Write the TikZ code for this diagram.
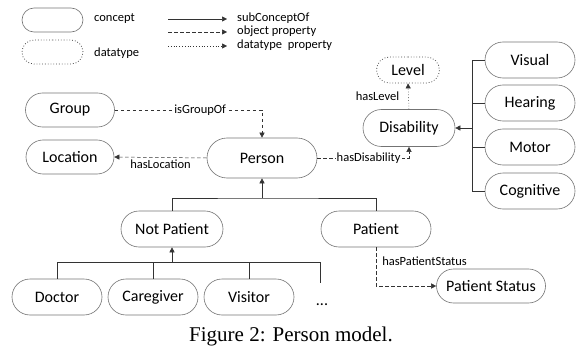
\documentclass[tikz,border=0pt]{standalone}
\usepackage{fontspec}
\setmainfont{Carlito}
\newfontfamily\capfont{Liberation Serif}
\usetikzlibrary{shapes.misc,arrows.meta}

\tikzset{
  concept/.style={rounded rectangle, draw=black!55, line width=0.6pt, minimum width=90pt, minimum height=36pt, inner sep=0pt, font=\fontsize{16}{18}\selectfont},
  datatype/.style={concept, draw=black!70, line width=0.8pt, dash pattern=on 0.8pt off 2pt},
  lbl/.style={font=\fontsize{12.5}{14}\selectfont, inner sep=1pt},
  sub/.style={-{Triangle[length=5pt,width=5pt]}, draw=black!80, line width=0.5pt},
  obj/.style={sub, dash pattern=on 3.5pt off 2.5pt},
  dat/.style={sub, dash pattern=on 0.8pt off 2pt},
}

\begin{document}
\begin{tikzpicture}[x=1pt,y=-1pt]
\useasboundingbox (0,0) rectangle (576,361);
%1. legend
\node[concept, minimum width=61pt, minimum height=24pt] (lgconcept) at (52.5,20) {};
\node[lbl, anchor=west] (lgconcepttxt) at (93,19) {concept};
\node[datatype, minimum width=61pt, minimum height=24pt] (lgdatatype) at (52.5,52) {};
\node[lbl, anchor=west] (lgdatatypetxt) at (93,53) {datatype};
\foreach \y/\kind/\txt in {19/sub/subConceptOf, 32/obj/object property, 46/dat/datatype\ \ property}
  {\coordinate (lgs\y) at (168,\y);
   \coordinate (lge\y) at (227,\y);
   \draw[\kind] (lgs\y) -- (lge\y);
   \node[lbl, anchor=west] (lgtxt\y) at (236,\y-1) {\txt};
  }
%2. concepts
\node[concept, minimum width=89pt, minimum height=34pt] (group) at (70,110) {Group};
\node[concept, minimum width=88pt, minimum height=34pt] (location) at (70,157) {Location};
\node[concept, minimum width=110pt, minimum height=40pt] (person) at (262,158) {Person};
\node[concept, minimum width=92pt, minimum height=37pt] (disability) at (409,128) {Disability};
\node[datatype, minimum width=63pt, minimum height=26pt] (level) at (408,70) {Level};
\foreach \n/\y/\txt in {visual/60/Visual, hearing/103/Hearing, motor/147/Motor, cognitive/191/Cognitive}
  {\node[concept] (\n) at (530,\y) {\txt};}
\node[concept, minimum width=102pt] (notpatient) at (172,229) {Not Patient};
\node[concept, minimum width=110pt] (patient) at (376,229) {Patient};
\node[concept, minimum width=109pt, minimum height=34pt] (pstatus) at (491,286) {Patient Status};
\foreach \n/\x/\txt in {doctor/57/Doctor, caregiver/153/Caregiver, visitor/249/Visitor}
  {\node[concept] (\n) at (\x,297) {\txt};}
\node[font=\fontsize{16}{18}\selectfont, inner sep=0pt] (more) at (322,305) {...};
%3. subConceptOf
\coordinate (bus1) at (262,198);
\draw[draw=black!80, line width=0.5pt] (notpatient.north) |- (bus1) -| (patient.north);
\draw[sub] (bus1) -- (person.south);
\coordinate (bus2) at (172,262);
\coordinate (morebar) at (320,283);
\draw[draw=black!80, line width=0.5pt] (doctor.north) |- (morebar |- bus2) -- (morebar);
\foreach \n in {caregiver,visitor}
  \draw[draw=black!80, line width=0.5pt] (\n.north) -- (\n.north |- bus2);
\draw[sub] (bus2) -- (notpatient.south);
\coordinate (bus3) at (472,128);
\draw[draw=black!80, line width=0.5pt] (visual.west) -- (visual.west -| bus3) -- (cognitive.west -| bus3) -- (cognitive.west);
\foreach \n in {hearing,motor}
  \draw[draw=black!80, line width=0.5pt] (\n.west) -- (\n.west -| bus3);
\draw[sub] (bus3) -- (disability.east);
%4. properties
\draw[obj] (group.east) -| node[lbl, fill=white, pos=0.29] (isgroupof) {isGroupOf} (person.north);
\draw[obj] (person.west) -- node[lbl, below=1pt] (haslocation) {hasLocation} (location.east);
\draw[obj] (person.east) -| node[lbl, fill=white, pos=0.28] (hasdisability) {hasDisability} (disability.south);
\draw[dat] (disability.north) -- node[lbl, left=8pt] (haslevel) {hasLevel} (level.south);
\draw[obj] (patient.south) |- node[lbl, anchor=west, pos=0.18, xshift=5pt] (haspstatus) {hasPatientStatus} (pstatus.west);
%5. caption
\node[font=\capfont\fontsize{21}{24}\selectfont, anchor=base, inner sep=0pt] (caption) at (291,341) {Figure 2: Person model.};
\end{tikzpicture}
\end{document}
